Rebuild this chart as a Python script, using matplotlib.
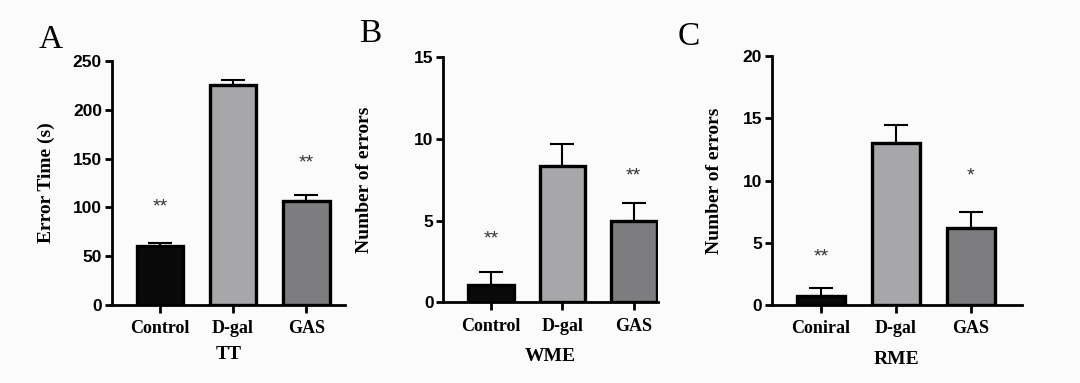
import numpy as np
import matplotlib.pyplot as plt

groups_tt = ['Control', 'D-gal', 'GAS']
groups_rme = ['Coniral', 'D-gal', 'GAS']

tt_mean = [60, 225, 107]
tt_err = [3.5, 6, 6]
tt_stars = ['**', '', '**']
tt_star_y = [100, 0, 146]

wme_mean = [1.05, 8.35, 4.95]
wme_err = [0.8, 1.35, 1.1]
wme_stars = ['**', '', '**']
wme_star_y = [3.85, 0, 7.75]

rme_mean = [0.75, 13.0, 6.2]
rme_err = [0.65, 1.45, 1.25]
rme_stars = ['**', '', '*']
rme_star_y = [3.85, 0, 10.4]

colors = ['#0a0a0a', '#a7a7a9', '#7d7d7f']

serif = 'Liberation Serif'
sans = 'Liberation Sans'

fig = plt.figure(figsize=(10.8, 3.83), dpi=100)
fig.patch.set_facecolor('#fbfbfb')


def panel(rect, labels, mean, err, stars, star_y, ymax, step, xlim, ylabel, xlabel, ylab_x, xlab_y):
    ax = fig.add_axes(rect)
    ax.set_facecolor('none')
    x = np.arange(len(mean))
    ax.bar(x, mean, width=0.64, color=colors, edgecolor='black', linewidth=2.4, zorder=3)
    ax.errorbar(x, mean, yerr=[np.zeros(len(err)), err], fmt='none', ecolor='black',
                elinewidth=1.5, capsize=8.5, capthick=1.5, zorder=2)
    for xi, s, sy in zip(x, stars, star_y):
        if s:
            ax.text(xi, sy, s, ha='center', va='center', fontsize=14, color='#333333',
                    family=sans)
    ax.set_ylim(0, ymax)
    ax.set_xlim(*xlim)
    ax.set_yticks(np.arange(0, ymax + 1, step))
    ax.set_xticks(x)
    ax.set_xticklabels(labels, family=serif, fontweight='bold', fontsize=13)
    for t in ax.get_yticklabels():
        t.set_family(sans)
        t.set_fontweight('bold')
        t.set_fontsize(12.5)
    for side in ['top', 'right']:
        ax.spines[side].set_visible(False)
    for side in ['left', 'bottom']:
        ax.spines[side].set_linewidth(2)
    ax.tick_params(axis='y', length=5, width=2, pad=2)
    ax.tick_params(axis='x', length=6, width=2, pad=5)
    ax.set_ylabel(ylabel, family=serif, fontweight='bold', fontsize=14)
    ax.set_xlabel(xlabel, family=serif, fontweight='bold', fontsize=14)
    ax.yaxis.set_label_coords(ylab_x, 0.5)
    ax.xaxis.set_label_coords(0.5, xlab_y)
    return ax


panel([0.1034, 0.2037, 0.2160, 0.6370], groups_tt, tt_mean, tt_err, tt_stars, tt_star_y,
      250, 50, (-0.66, 2.53), 'Error Time (s)', 'TT', -0.243, -0.168)
panel([0.4105, 0.2107, 0.1988, 0.6397], groups_tt, wme_mean, wme_err, wme_stars, wme_star_y,
      15, 5, (-0.667, 2.34), 'Number of errors', 'WME', -0.327, -0.186)
panel([0.7145, 0.2037, 0.2315, 0.6500], groups_rme, rme_mean, rme_err, rme_stars, rme_star_y,
      20, 5, (-0.657, 2.68), 'Number of errors', 'RME', -0.195, -0.185)

for letter, fx, fy in [('A', 0.047, 0.896), ('B', 0.343, 0.912), ('C', 0.638, 0.903)]:
    fig.text(fx, fy, letter, ha='center', va='center', family=serif, fontsize=24)

fig.savefig('out.png', dpi=100, facecolor=fig.get_facecolor())
